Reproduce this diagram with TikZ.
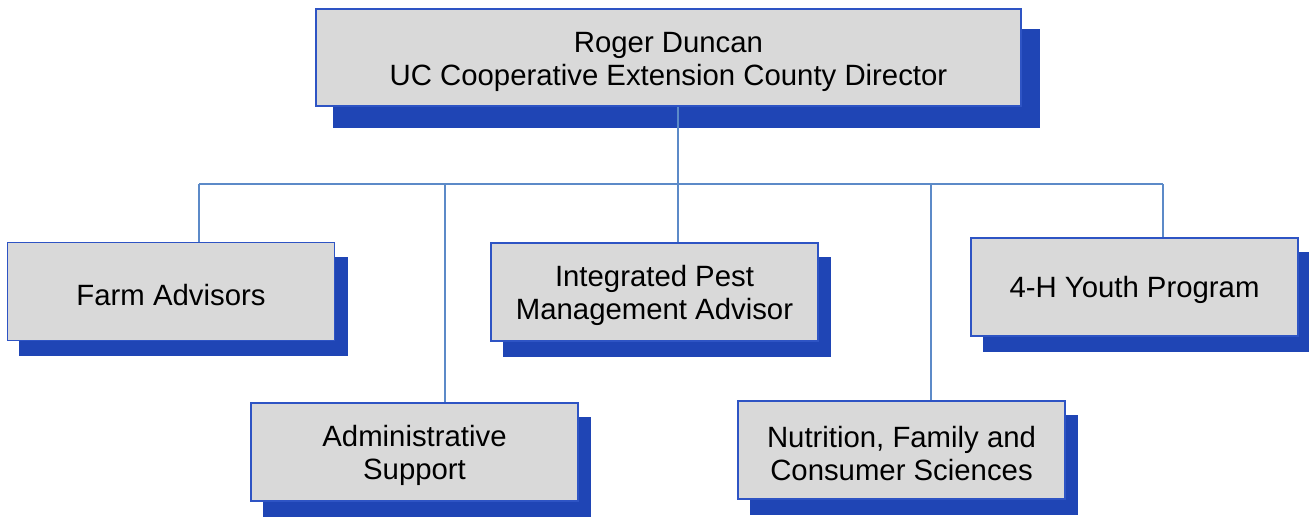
\documentclass[tikz,border=0pt]{standalone}
\usepackage{fontspec}
\setmainfont{Liberation Sans}
\usetikzlibrary{backgrounds}
\definecolor{shadowblue}{RGB}{31,69,181}
\definecolor{borderblue}{RGB}{46,84,196}
\definecolor{linkblue}{RGB}{92,138,200}
\definecolor{boxgray}{RGB}{217,217,217}
\tikzset{
  orgbox/.style={draw=borderblue, line width=1.1pt, fill=boxgray, inner sep=0pt},
  smallbox/.style={orgbox, minimum width=245.25pt, minimum height=73.5pt},
  txt/.style={align=center, inner sep=0pt, yshift=-2.4pt,
    font=\fontsize{22}{24.75}\selectfont, text=black},
  link/.style={draw=linkblue, line width=1pt},
  shade/.style={fill=shadowblue}
}
\begin{document}
\begin{tikzpicture}[x=0.75pt,y=-0.75pt]
\useasboundingbox (0,0) rectangle (1309,517);
\node[orgbox, minimum width=528.75pt, minimum height=72.75pt,
  label={[txt, yshift=-0.8pt]center:Roger Duncan\\UC Cooperative Extension County Director}] (top) at (668.5,57.5) {};
\node[smallbox, label={[txt]center:Farm Advisors}] (farm) at (171,291.5) {};
\node[smallbox, label={[txt]center:Integrated Pest\\Management Advisor}] (ipm) at (654.5,292) {};
\node[smallbox, label={[txt]center:4-H Youth Program}] (youth) at (1134.5,287) {};
\node[smallbox, label={[txt]center:Administrative\\Support}] (admin) at (414.5,452) {};
\node[smallbox, label={[txt]center:Nutrition, Family and\\Consumer Sciences}] (nutr) at (901.5,450) {};
\begin{scope}[on background layer]
\fill[shade] ([shift={(18,21)}]top.south west) rectangle ([shift={(18,21)}]top.north east);
\foreach \n in {farm,ipm,youth,admin,nutr}
  \fill[shade] ([shift={(12.5,15)}]\n.south west) rectangle ([shift={(12.5,15)}]\n.north east);
\coordinate (bt) at (678,184);
\coordinate (b1) at (199,184);
\coordinate (b2) at (445,184);
\coordinate (b4) at (931,184);
\coordinate (b5) at (1163,184);
\draw[link] (bt |- top.south) -- (bt);
\draw[link] (b1) -- (b5);
\draw[link] (b1) -- (b1 |- farm.north);
\draw[link] (b2) -- (b2 |- admin.north);
\draw[link] (bt) -- (bt |- ipm.north);
\draw[link] (b4) -- (b4 |- nutr.north);
\draw[link] (b5) -- (b5 |- youth.north);
\end{scope}
\end{tikzpicture}
\end{document}
